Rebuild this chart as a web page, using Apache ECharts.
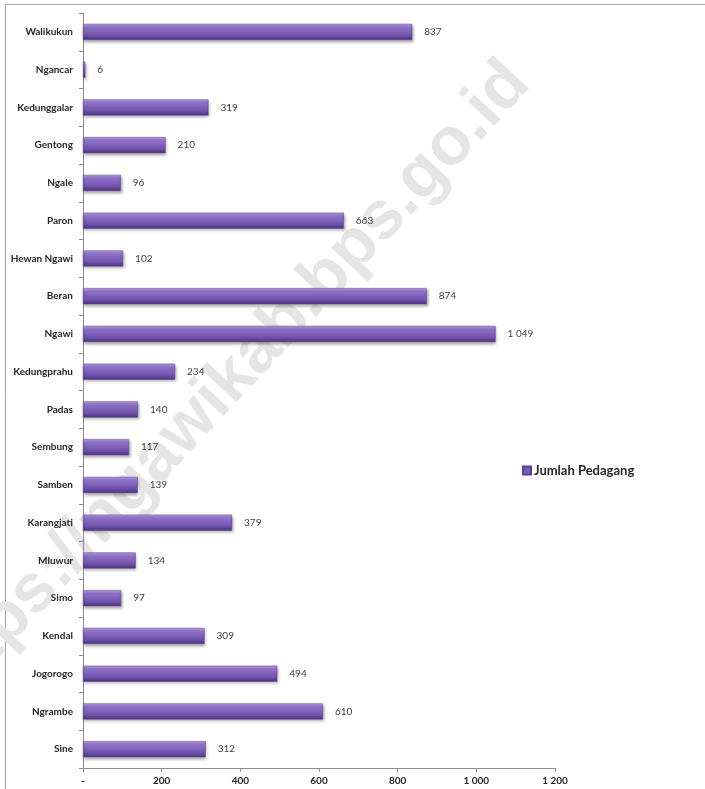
<!DOCTYPE html>
<html>
<head>
<meta charset="utf-8">
<script src="https://cdn.jsdelivr.net/npm/echarts@6/dist/echarts.min.js"></script>
<style>html,body{margin:0;padding:0;background:#fff}#c{width:705px;height:789px}</style>
</head>
<body>
<div id="c"></div>
<script>
const categories = ['Walikukun','Ngancar','Kedunggalar','Gentong','Ngale','Paron','Hewan Ngawi','Beran','Ngawi','Kedungprahu','Padas','Sembung','Samben','Karangjati','Mluwur','Simo','Kendal','Jogorogo','Ngrambe','Sine'];
const values = [837, 6, 319, 210, 96, 663, 102, 874, 1049, 234, 140, 117, 139, 379, 134, 97, 309, 494, 610, 312];
const seriesName = 'Jumlah Pedagang';
const xTicks = {min: 0, max: 1200, interval: 200};

function fmt(v){
  if (v === 0) return '-';
  return String(v).replace(/\B(?=(\d{3})+(?!\d))/g, ' ');
}

const chart = echarts.init(document.getElementById('c'), null, {renderer: 'canvas'});
const FONT = 'Lato, "Open Sans", sans-serif';
chart.setOption({
  animation: false,
  backgroundColor: '#ffffff',
  textStyle: {fontFamily: FONT},
  grid: {left: 83, right: 150, top: 13, bottom: 21, containLabel: false},
  graphic: [
    {type: 'rect', z: -20, silent: true, shape: {x: 5.5, y: 4.5, width: 800, height: 900},
     style: {fill: 'none', stroke: '#a6a6a6', lineWidth: 1}},
    {type: 'text', z: -10, silent: true, x: 226, y: 386, rotation: 47 * Math.PI / 180,
     style: {text: 'https://ngawikab.bps.go.id', font: 'bold 68px "Liberation Sans", Arial, sans-serif',
       fill: '#e5e5e5', align: 'center', verticalAlign: 'middle'}}
  ],
  legend: {
    data: [seriesName], left: 517, top: 459, orient: 'vertical',
    icon: 'rect', itemWidth: 8, itemHeight: 8, itemGap: 4,
    textStyle: {fontFamily: FONT, fontWeight: 'bold', fontSize: 13, color: '#262626', padding: [0,0,0,-2]},
    itemStyle: {color: '#7b5cb5'}
  },
  xAxis: {
    type: 'value', min: xTicks.min, max: xTicks.max, interval: xTicks.interval,
    axisLine: {show: true, lineStyle: {color: '#8c8c8c'}},
    axisTick: {show: true, length: 4, lineStyle: {color: '#8c8c8c'}},
    splitLine: {show: false},
    axisLabel: {formatter: fmt, fontFamily: FONT, fontWeight: 'bold', fontSize: 10, color: '#262626', margin: 8}
  },
  yAxis: {
    type: 'category', data: categories, inverse: true,
    axisLine: {show: true, lineStyle: {color: '#8c8c8c'}},
    axisTick: {show: true, length: 4, lineStyle: {color: '#8c8c8c'}},
    axisLabel: {fontFamily: FONT, fontWeight: 'bold', fontSize: 10, color: '#262626', margin: 10}
  },
  series: [{
    name: seriesName, type: 'bar', data: values, barWidth: 16, z: 2,
    itemStyle: {
      color: new echarts.graphic.LinearGradient(0, 0, 0, 1, [
        {offset: 0, color: '#b39ae0'},
        {offset: 0.25, color: '#8d70c8'},
        {offset: 0.7, color: '#7354ad'},
        {offset: 1, color: '#4e3482'}
      ]),
      borderColor: '#5a3f8c', borderWidth: 0.5,
      shadowColor: 'rgba(0,0,0,0.35)', shadowBlur: 3, shadowOffsetX: 1, shadowOffsetY: 2
    },
    label: {show: true, position: 'right', distance: 12, formatter: p => fmt(p.value),
      fontFamily: FONT, fontSize: 10, color: '#404040'}
  }]
});
</script>
</body>
</html>
